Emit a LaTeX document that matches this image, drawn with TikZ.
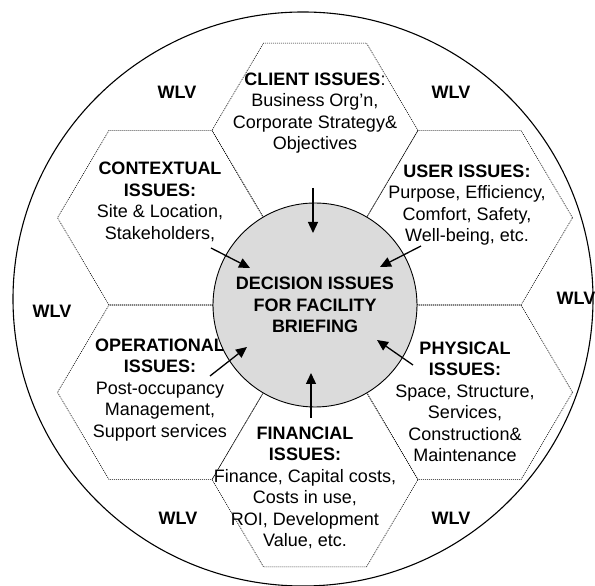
\documentclass[tikz,border=0pt]{standalone}
\usepackage{fontspec}
\setmainfont{Liberation Sans}
\usetikzlibrary{arrows.meta}

\begin{document}
\begin{tikzpicture}[x=1pt, y=1pt,
        hexline/.style={line width=0.6pt, black, dash pattern=on 1pt off 1pt},
        issue/.style={align=center, inner sep=0pt, font=\fontsize{18}{21.5}\selectfont},
        wlv/.style={inner sep=0pt, font=\fontsize{18}{21.5}\selectfont\bfseries},
        feed/.style={line width=1.3pt, -{Triangle[length=11pt, width=10pt]}}]
        \useasboundingbox (0,0) rectangle (595,586);
        \draw[line width=1.1pt] (303,287) ellipse [x radius=290pt, y radius=287pt];
        \foreach \hx/\hy in {315/455.6, 315/106.4, 160.5/368.3, 469.5/368.3, 160.5/193.7, 469.5/193.7}
          \draw[hexline, shift={(\hx,\hy)}] (103,0) -- (51.5,87.3) -- (-51.5,87.3) -- (-103,0)
            -- (-51.5,-87.3) -- (51.5,-87.3) -- cycle;
        \node[wlv] (wlvA) at (177,494) {WLV};
        \node[wlv] (wlvB) at (451,494) {WLV};
        \node[wlv] (wlvC) at (52,275) {WLV};
        \node[wlv] (wlvD) at (576,288) {WLV};
        \node[wlv] (wlvE) at (178,68) {WLV};
        \node[wlv] (wlvF) at (451,68) {WLV};
        \node[issue] (client) at (315,473) {\textbf{CLIENT ISSUES}:\\Business Org’n,\\Corporate Strategy\&\\Objectives};
        \node[issue] (contextual) at (160,384) {\textbf{CONTEXTUAL}\\\textbf{ISSUES:}\\Site \& Location,\\Stakeholders,};
        \node[issue] (user) at (467,381) {\textbf{USER ISSUES:}\\Purpose, Efficiency,\\Comfort, Safety,\\Well-being, etc.};
        \node[issue] (operational) at (160,196) {\textbf{OPERATIONAL}\\\textbf{ISSUES:}\\Post-occupancy\\Management,\\Support services};
        \node[issue] (physical) at (465,184) {\textbf{PHYSICAL}\\\textbf{ISSUES:}\\Space, Structure,\\Services,\\Construction\&\\Maintenance};
        \node[issue] (financial) at (305,98) {\textbf{FINANCIAL}\\\textbf{ISSUES:}\\Finance, Capital costs,\\Costs in use,\\ROI, Development\\Value, etc.};
        \node[circle, draw, line width=0.9pt, fill=gray!28, minimum size=204pt, issue,
          font=\fontsize{18}{21.5}\selectfont\bfseries] (decision) at (315,281)
          {DECISION ISSUES\\FOR FACILITY\\BRIEFING};
        \foreach \name/\tx/\ty/\hx/\hy in {client/313/398/313/353, contextual/211/338/250/318,
            user/421/340/380/319, operational/210/210/247/239,
            physical/413/221/377/246, financial/311/168/311/213} {
          \coordinate (\name tail) at (\tx,\ty);
          \coordinate (\name head) at (\hx,\hy);
          \draw[feed] (\name tail) -- (\name head);
        }
\end{tikzpicture}
\end{document}
